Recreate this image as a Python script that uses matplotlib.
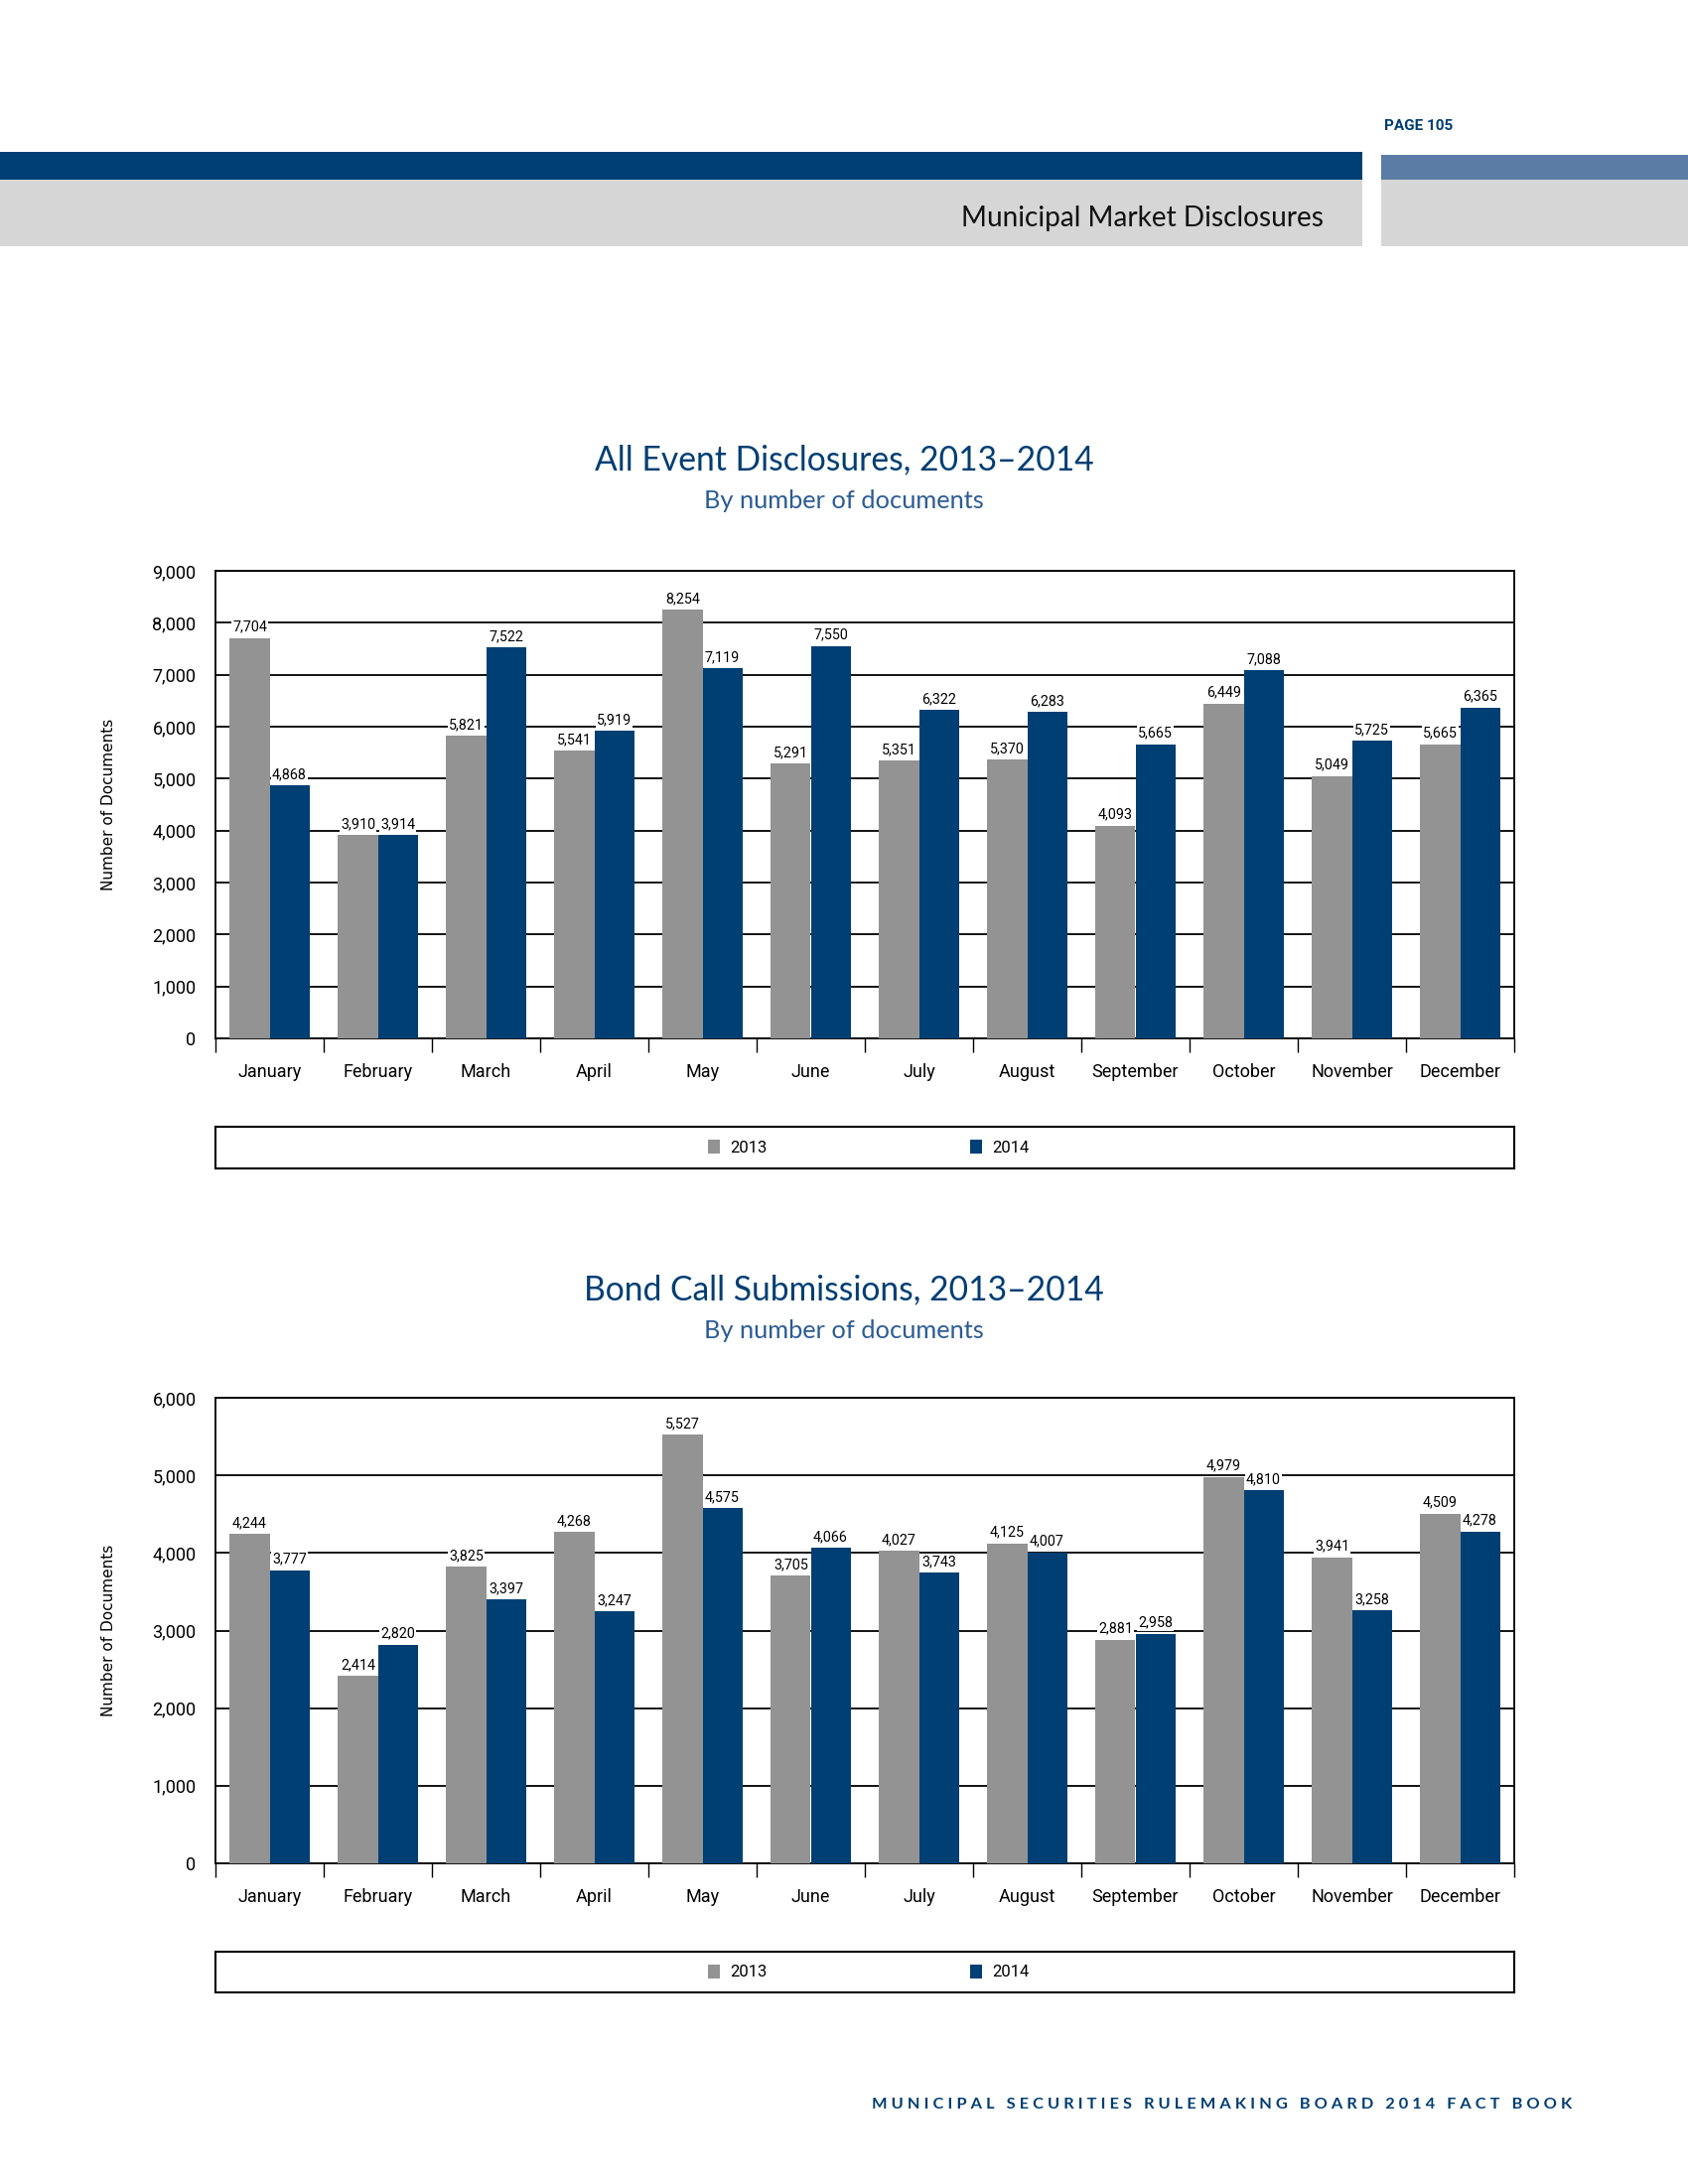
"""Municipal Market Disclosures page: event disclosures and bond calls, 2013-2014."""

import numpy as np
import matplotlib
matplotlib.use('Agg')
import matplotlib.pyplot as plt
from matplotlib import font_manager
from matplotlib.patches import Rectangle

# ---- data ----------------------------------------------------------------
months = ['January', 'February', 'March', 'April', 'May', 'June', 'July',
          'August', 'September', 'October', 'November', 'December']
years = ['2013', '2014']

event_2013 = [7704, 3910, 5821, 5541, 8254, 5291, 5351, 5370, 4093, 6449, 5049, 5665]
event_2014 = [4868, 3914, 7522, 5919, 7119, 7550, 6322, 6283, 5665, 7088, 5725, 6365]

call_2013 = [4244, 2414, 3825, 4268, 5527, 3705, 4027, 4125, 2881, 4979, 3941, 4509]
call_2014 = [3777, 2820, 3397, 3247, 4575, 4066, 3743, 4007, 2958, 4810, 3258, 4278]

# ---- styling -------------------------------------------------------------
GREY = '#939393'
BLUE = '#003F73'
NAVY = '#003E72'
SUB_BLUE = '#2B5C94'
LIGHT_BLUE = '#5B7CA4'
BAND = '#D6D6D6'


def _pick(*names):
    have = {f.name for f in font_manager.fontManager.ttflist}
    for n in names:
        if n in have:
            return n
    return 'DejaVu Sans'


NARROW = _pick('Liberation Sans Narrow', 'Roboto', 'Liberation Sans')
TITLE = _pick('Lato', 'Noto Sans', 'Open Sans')

plt.rcParams['font.family'] = NARROW


def _bar_panel(fig, rect, legend_rect, v13, v14, ymax, title, y_title):
    ax = fig.add_axes(rect)
    x = np.arange(len(months))
    w = 0.367
    b1 = ax.bar(x - w / 2, v13, w, color=GREY, zorder=3, label=years[0])
    b2 = ax.bar(x + w / 2, v14, w, color=BLUE, zorder=3, label=years[1])

    for bars, vals in ((b1, v13), (b2, v14)):
        for r, v in zip(bars, vals):
            ax.annotate(f'{v:,}', (r.get_x() + r.get_width() / 2, v),
                        xytext=(0, 3), textcoords='offset points',
                        ha='center', va='bottom', fontsize=10.3, zorder=2.5,
                        bbox=dict(fc='white', ec='none', pad=0.8))

    ax.set_xlim(-0.5, len(months) - 0.5)
    ax.set_ylim(0, ymax)
    ax.set_yticks(np.arange(0, ymax + 1, 1000))
    ax.set_yticklabels([f'{t:,}' for t in range(0, ymax + 1, 1000)], fontsize=13)
    ax.tick_params(axis='y', length=0, pad=14)
    ax.yaxis.grid(True, color='black', lw=1.3, zorder=1)

    # boundary ticks below the axis, month names as minor ticks
    ax.set_xticks(np.arange(-0.5, len(months), 1.0))
    ax.set_xticklabels([])
    ax.tick_params(axis='x', which='major', direction='out', length=10, width=1, color='black')
    ax.set_xticks(x, minor=True)
    ax.set_xticklabels(months, minor=True, fontsize=13)
    ax.tick_params(axis='x', which='minor', length=0, pad=18)

    for s in ax.spines.values():
        s.set_color('black')
        s.set_linewidth(1.3)

    ax.set_ylabel('Number of Documents', fontsize=11, family='DejaVu Sans', labelpad=26)

    fig.text(0.5, y_title, title, ha='center', va='center', fontsize=24.2,
             color=NAVY, family=TITLE)
    fig.text(0.5, y_title - 0.019, 'By number of documents', ha='center',
             va='center', fontsize=18.3, color=SUB_BLUE, family=TITLE)

    lax = fig.add_axes(legend_rect)
    lax.set_xticks([]); lax.set_yticks([])
    for s in lax.spines.values():
        s.set_color('black')
        s.set_linewidth(1.5)
    lax.legend([b1, b2], years, loc='center', ncol=2, frameon=False,
               fontsize=12, handlelength=0.7, handleheight=0.9,
               handletextpad=0.6, columnspacing=12.3,
               bbox_to_anchor=(0.503, 0.5))
    return ax


def main():
    fig = plt.figure(figsize=(17, 22), dpi=100)
    fig.patch.set_facecolor('white')

    # ---- page header -----------------------------------------------------
    H = 2200.0
    W = 1700.0
    def rect(x0, y0, x1, y1, c):
        fig.add_artist(Rectangle((x0 / W, 1 - y1 / H), (x1 - x0) / W, (y1 - y0) / H,
                                 transform=fig.transFigure, color=c, lw=0, zorder=0))
    rect(0, 153, 1372, 181, BLUE)
    rect(0, 181, 1372, 248, BAND)
    rect(1391, 156, 1700, 181, LIGHT_BLUE)
    rect(1391, 181, 1700, 248, BAND)

    fig.text(1394 / W, 1 - 127 / H, 'PAGE 105', ha='left', va='center',
             fontsize=11, weight='bold', color=NAVY)
    fig.text(1333 / W, 1 - 220 / H, 'Municipal Market Disclosures', ha='right',
             va='center', fontsize=20.2, color='#111111', family=TITLE)

    # ---- charts ------------------------------------------------------------
    _bar_panel(fig, [217 / W, 1 - 1046 / H, 1308 / W, 471 / H],
               [217 / W, 1 - 1177 / H, 1308 / W, 42 / H],
               event_2013, event_2014, 9000,
               'All Event Disclosures, 2013\u20132014', 1 - 463 / H)
    _bar_panel(fig, [217 / W, 1 - 1877 / H, 1308 / W, 469 / H],
               [217 / W, 1 - 2007 / H, 1308 / W, 41 / H],
               call_2013, call_2014, 6000,
               'Bond Call Submissions, 2013\u20132014', 1 - 1299 / H)

    # ---- footer --------------------------------------------------------------
    footer = 'MUNICIPAL SECURITIES RULEMAKING BOARD 2014 FACT BOOK'
    spaced = '   '.join(' '.join(word) for word in footer.split())
    fig.text(1583 / W, 1 - 2120 / H, spaced, ha='right', va='center',
             fontsize=11.8, weight='bold', color=NAVY, family=TITLE)

    fig.savefig('out.png', dpi=100, facecolor='white')
    plt.close(fig)


if __name__ == '__main__':
    main()
